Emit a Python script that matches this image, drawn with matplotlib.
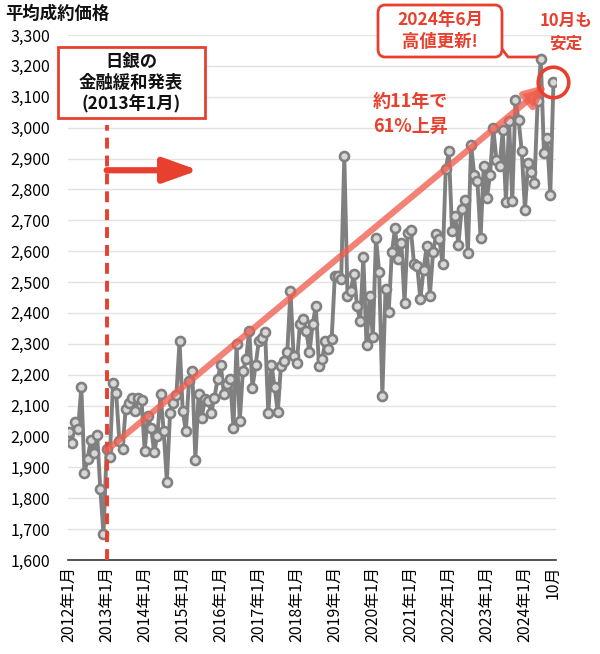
import matplotlib.pyplot as plt
from matplotlib.patches import FancyBboxPatch, Rectangle
import numpy as np

plt.rcParams['font.family'] = ['Noto Sans CJK JP', 'DejaVu Sans']

# 平均成約価格（万円）, monthly 2012-01 .. 2024-10
y2012 = [2014, 1980, 2046, 2025, 2160, 1883, 1928, 1990, 1947, 2006, 1829, 1684]
y2013 = [1959, 1932, 2172, 2140, 1986, 1961, 2088, 2110, 2126, 2082, 2126, 2118]
y2014 = [1954, 2067, 2029, 1950, 2002, 2137, 2017, 1854, 2075, 2110, 2135, 2309]
y2015 = [2083, 2018, 2180, 2212, 1925, 2137, 2061, 2120, 2115, 2077, 2126, 2185]
y2016 = [2233, 2137, 2169, 2185, 2029, 2298, 2050, 2212, 2250, 2343, 2158, 2230]
y2017 = [2309, 2320, 2338, 2075, 2233, 2160, 2078, 2229, 2245, 2272, 2471, 2261]
y2018 = [2237, 2363, 2380, 2342, 2272, 2363, 2423, 2229, 2250, 2309, 2282, 2315]
y2019 = [2519, 2519, 2509, 2908, 2455, 2471, 2525, 2423, 2374, 2580, 2295, 2456]
y2020 = [2321, 2644, 2531, 2132, 2477, 2402, 2596, 2674, 2574, 2628, 2432, 2660]
y2021 = [2670, 2558, 2553, 2445, 2540, 2617, 2456, 2596, 2655, 2640, 2558, 2865]
y2022 = [2923, 2665, 2713, 2621, 2735, 2767, 2594, 2945, 2848, 2826, 2643, 2875]
y2023 = [2772, 2848, 2998, 2896, 2875, 2993, 2759, 3020, 2761, 3090, 3025, 2923]
y2024 = [2734, 2885, 2858, 2821, 3085, 3222, 2918, 2966, 2783, 3149]

prices = y2012 + y2013 + y2014 + y2015 + y2016 + y2017 + y2018 + y2019 + y2020 + y2021 + y2022 + y2023 + y2024
months = np.arange(len(prices))

tick_months = [0, 12, 24, 36, 48, 60, 72, 84, 96, 108, 120, 132, 144, 153]
tick_labels = [f"{y}年1月" for y in range(2012, 2025)] + ["10月"]

boj_month = 12          # 2013年1月
trend_start = (12, 1955)
trend_end = (151, 3140)

RED = "#e8402f"
GRAY = "#808080"
W, H = 600, 654


def px(x, y):
    return x / W, 1 - y / H


fig = plt.figure(figsize=(W / 100, H / 100), dpi=100)
ax = fig.add_axes([68 / W, 94 / H, 488 / W, 525 / H])

ax.plot(months, prices, color=GRAY, lw=2.8, marker="o", ms=6.5,
        mfc="#d8d8d8", mec=GRAY, mew=1.9, zorder=3)

ax.set_xlim(-0.2, 153.8)
ax.set_ylim(1600, 3300)
yt = list(range(1600, 3301, 100))
ax.set_yticks(yt, [f"{v:,}" for v in yt])
ax.set_xticks(tick_months, tick_labels, rotation=90)
ax.tick_params(axis="y", length=0, labelsize=11.5, pad=13)
ax.tick_params(axis="x", length=0, labelsize=11.5, pad=4)
ax.grid(axis="y", color="#e3e3e3", lw=1)
ax.set_axisbelow(True)
for side in ["top", "right", "left"]:
    ax.spines[side].set_visible(False)
ax.spines["bottom"].set_color("#333333")
ax.spines["bottom"].set_linewidth(1.2)

# 日銀 line
ax.plot([boj_month, boj_month], [1600, 3010], color=RED, lw=2.8,
        ls=(0, (2.8, 1.8)), zorder=4, clip_on=False)

# trend arrow
ax.annotate("", xy=trend_end, xytext=trend_start,
            arrowprops=dict(arrowstyle="-|>,head_length=1.3,head_width=0.6",
                            lw=4.5, color="#ef5f4f", alpha=0.78,
                            shrinkA=0, shrinkB=0), zorder=5)

# horizontal arrow after 2013
ax.annotate("", xy=(41, 2862), xytext=(boj_month, 2862),
            arrowprops=dict(arrowstyle="-|>,head_length=2.1,head_width=0.75",
                            lw=4.5, color=RED, shrinkA=0, shrinkB=0), zorder=5)

# circle on the latest month
ax.plot(months[-1], prices[-1], "o", ms=22, mfc="none", mec=RED, mew=2.6,
        zorder=6, clip_on=False)

fig.text(*px(5, 14), "平均成約価格", fontsize=12.5, fontweight="bold",
         va="center", ha="left", color="#111111")

x0, y0 = px(58, 118)
fig.add_artist(Rectangle((x0, y0), 147 / W, 71 / H, transform=fig.transFigure,
                         fc="white", ec=RED, lw=2, zorder=5))
fig.text(*px(131, 83), "日銀の\n金融緩和発表\n(2013年1月)", fontsize=12.5,
         fontweight="bold", ha="center", va="center", linespacing=1.2,
         color="#111111", zorder=6)

fig.text(*px(410, 114), "約11年で\n61%上昇", fontsize=13, fontweight="bold",
         color=RED, ha="center", va="center", linespacing=1.35)

bx, by = px(378, 57)
fig.add_artist(FancyBboxPatch((bx, by), 124 / W, 52 / H,
                              boxstyle="round,pad=0,rounding_size=0.012",
                              transform=fig.transFigure, fc="white", ec=RED,
                              lw=2, zorder=5))
fig.text(*px(440, 31), "2024年6月\n高値更新!", fontsize=12.5, fontweight="bold",
         color=RED, ha="center", va="center", linespacing=1.3, zorder=6)
tail_x = [502, 508, 537]
tail_y = [49, 57, 57]
fig.add_artist(plt.Line2D([px(x, 0)[0] for x in tail_x],
                          [px(0, y)[1] for y in tail_y],
                          transform=fig.transFigure, color=RED, lw=2))

fig.text(*px(566, 32), "10月も\n安定", fontsize=12, fontweight="bold",
         color=RED, ha="center", va="center", linespacing=1.3)

fig.savefig("out.png", dpi=100)
